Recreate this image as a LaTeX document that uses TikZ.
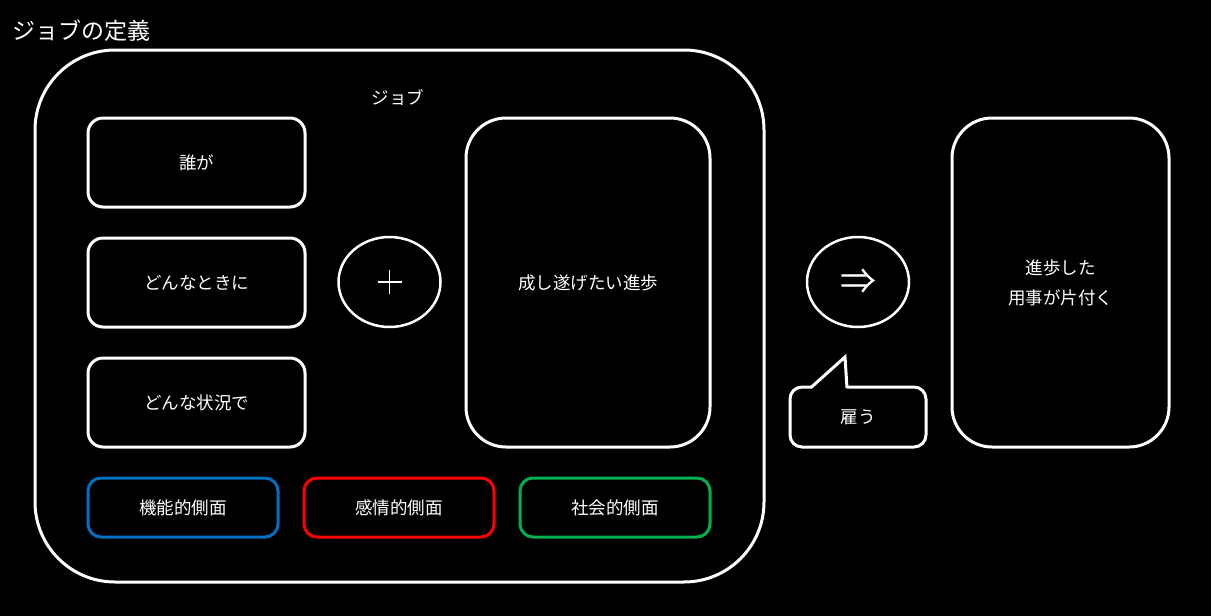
\documentclass[tikz,border=0pt]{standalone}
\usepackage{fontspec}
\setmainfont{Noto Sans CJK JP}
\usetikzlibrary{positioning,calc,shapes.geometric}
\begin{document}
\begin{tikzpicture}[x=1pt,y=-1pt,
  lbl/.style={text=white,font=\fontsize{17.5}{30}\selectfont,align=center},
  rbox/.style={draw=white,line width=3pt,rounded corners=#1,lbl,inner sep=0pt},
  sbox/.style={rbox=15pt,minimum width=217pt,minimum height=89pt},
  tall/.style={rbox=40pt,minimum width=244pt,minimum height=329pt},
  aspect/.style={rbox=13pt,draw=#1,minimum width=190pt,minimum height=59pt},
  oval/.style={draw=white,line width=2.5pt,ellipse,minimum width=102pt,minimum height=90pt,inner sep=0pt,text=white}
]
\fill[black] (0,0) rectangle (1211,616);
\useasboundingbox (0,0) rectangle (1211,616);
\definecolor{fblue}{RGB}{0,112,192}
\definecolor{fred}{RGB}{255,0,0}
\definecolor{fgreen}{RGB}{0,176,80}
\node[anchor=west,text=white,font=\fontsize{23}{26}\selectfont,inner sep=0pt] (title) at (12,31) {ジョブの定義};
\node[draw=white,line width=3pt,rounded corners=80pt,minimum width=729pt,minimum height=532pt,inner sep=0pt] (outer) at (399.5,316) {};
\node[lbl,inner sep=0pt] (job) at (398,97) {ジョブ};
\node[sbox] (who) at (196.5,162.5) {誰が};
\node[sbox] (when) at (196.5,282.5) {どんなときに};
\node[sbox] (sit) at (196.5,402.5) {どんな状況で};
\node[oval] (plus) at (389.5,282) {};
\draw[white,line width=1.5pt] ($(plus.center)+(-12,0)$) -- ($(plus.center)+(12,0)$);
\draw[white,line width=1.5pt] ($(plus.center)+(0,-12)$) -- ($(plus.center)+(0,12)$);
\node[tall] (prog) at (588,282.5) {成し遂げたい進歩};
\node[aspect=fblue] (func) at (183,507.5) {機能的側面};
\node[aspect=fred] (emo) at (399,507.5) {感情的側面};
\node[aspect=fgreen] (soc) at (615,507.5) {社会的側面};
\node[oval,font=\fontsize{36}{36}\selectfont] (arr) at (858,282) {⇒};
\node[tall,minimum width=217pt] (done) at (1060.5,282.5) {進歩した\\用事が片付く};
\draw[white,line width=3pt,rounded corners=12pt]
  (847,387) -- (926,387) -- (926,447) -- (790,447) -- (790,387) -- (812,387);
\draw[white,line width=3pt,line join=miter] (811,387.5) -- (845,357) -- (847,388);
\node[lbl] (hire) at (858,417) {雇う};
\end{tikzpicture}
\end{document}
